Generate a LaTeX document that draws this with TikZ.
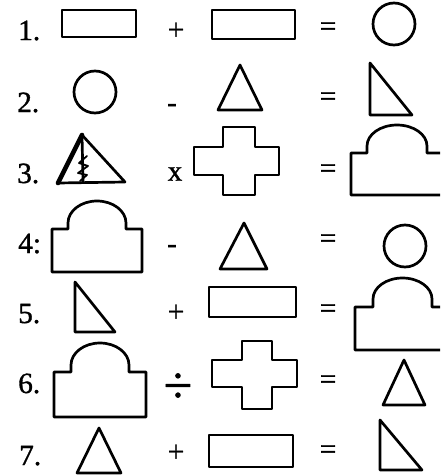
\documentclass[tikz,border=0pt]{standalone}
\usepackage{fontspec}
\setmainfont{Liberation Serif}[FakeBold=1.2,AutoFakeBold=1.2]
\begin{document}
\begin{tikzpicture}[
  x=0.03cm,
  y=-0.03cm,
  line cap=round,
  line join=round,
  fig/.style={line width=2.3pt},
  num/.style={anchor=base west,inner sep=0pt,font=\fontsize{25}{30}\selectfont\bfseries},
  op/.style={inner sep=0pt,font=\fontsize{25}{30}\selectfont\bfseries}
]
  \clip (0,0) rectangle (440,475);
  \fill[white] (0,0) rectangle (440,475);

  % Номера строк
  \node[num] (N1) at (18,40) {1.};
  \node[num] (N2) at (17,112) {2.};
  \node[num] (N3) at (17,183) {3.};
  \node[num] (N4) at (18,253) {4:};
  \node[num] (N5) at (18,323) {5.};
  \node[num] (N6) at (18,393) {6.};
  \node[num] (N7) at (19,465) {7.};

  % Знаки действий
  \node[op] (P1) at (176,31) {+};
  \node[op,anchor=base] (P2) at (172,112) {-};
  \node[op] (P3) at (175,174) {x};
  \node[op,anchor=base] (P4) at (172,253) {-};
  \node[op] (P5) at (176,313) {+};
  \node[op,font=\fontsize{44}{50}\selectfont\bfseries] (P6) at (178,388) {÷};
  \node[op] (P7) at (176,453) {+};

  % Знаки равенства
  \node[op] (E1) at (328,29) {=};
  \node[op] (E2) at (328,99) {=};
  \node[op] (E3) at (328,171) {=};
  \node[op] (E4) at (328,241) {=};
  \node[op] (E5) at (328,311) {=};
  \node[op] (E6) at (328,382) {=};
  \node[op] (E7) at (328,452) {=};

  % Строка 1
  \draw[fig] (62,10) rectangle (136,37);
  \draw[fig] (212,10) rectangle (295,39);
  \draw[fig] (394,24) circle[radius=21];

  % Строка 2
  \draw[fig] (95,92) circle[radius=21];
  \draw[fig] (240,65) -- (262,110) -- (218,110) -- cycle;
  \draw[fig] (370,63) -- (412,115) -- (370,115) -- cycle;

  % Строка 3: треугольник с молнией
  \draw[fig] (82,135) -- (125,182) -- (58,183) -- cycle;
  \draw[line width=4pt] (82,135) -- (58,183);
  \draw[fig] (82,135) -- (83,182);
  \draw[line width=1.5pt]
    (87,156) -- (79,163) -- (88,166) -- (78,173) -- (87,175) -- (80,181);

  % Крест
  \draw[fig]
    (223,127) -- (255,127) -- (255,147) -- (279,147) -- (279,175)
    -- (255,175) -- (255,195) -- (223,195) -- (223,175) -- (194,175)
    -- (194,147) -- (223,147) -- cycle;

  % Купол (обрезан справа)
  \draw[fig]
    (351,153) -- (367,153) -- (367,146)
    arc[
      start angle=180,
      end angle=360,
      x radius=30,
      y radius=21
    ]
    -- (427,153) -- (470,153) -- (470,195) -- (351,195) -- cycle;

  % Строка 4
  \draw[fig]
    (52,229) -- (68,229) -- (68,223)
    arc[
      start angle=180,
      end angle=360,
      x radius=29,
      y radius=22
    ]
    -- (126,229) -- (142,229) -- (142,272) -- (52,272) -- cycle;
  \draw[fig] (244,223) -- (267,269) -- (220,269) -- cycle;
  \draw[fig] (405,246) circle[radius=21];

  % Строка 5
  \draw[fig] (75,282) -- (115,332) -- (75,332) -- cycle;
  \draw[fig] (209,287) rectangle (296,317);
  \draw[fig]
    (355,307) -- (373,307) -- (373,299)
    arc[
      start angle=180,
      end angle=360,
      x radius=29.5,
      y radius=21
    ]
    -- (432,307) -- (470,307) -- (470,350) -- (355,350) -- cycle;

  % Строка 6
  \draw[fig]
    (54,372) -- (71,372) -- (71,365)
    arc[
      start angle=180,
      end angle=360,
      x radius=29,
      y radius=22
    ]
    -- (129,372) -- (146,372) -- (146,417) -- (54,417) -- cycle;
  \draw[fig]
    (242,341) -- (272,341) -- (272,360) -- (297,360) -- (297,387)
    -- (272,387) -- (272,409) -- (242,409) -- (242,387) -- (212,387)
    -- (212,360) -- (242,360) -- cycle;
  \draw[fig] (404,360) -- (425,405) -- (383,405) -- cycle;

  % Строка 7
  \draw[fig] (99,428) -- (121,473) -- (77,473) -- cycle;
  \draw[fig] (209,435) rectangle (293,467);
  \draw[fig] (380,420) -- (422,470) -- (380,470) -- cycle;
\end{tikzpicture}
\end{document}
